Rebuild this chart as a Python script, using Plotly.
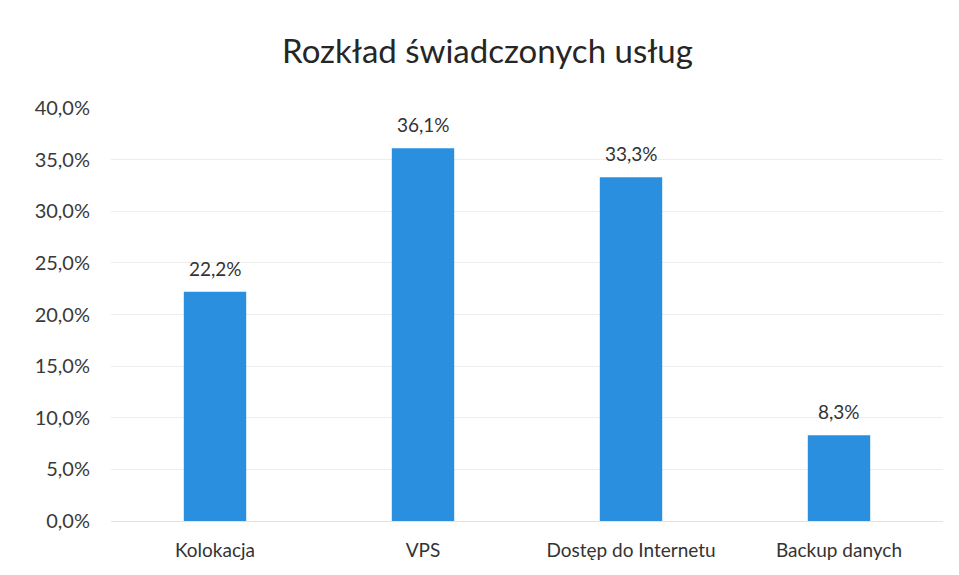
import plotly.graph_objects as go

# dane
categories = ['Kolokacja', 'VPS', 'Dostęp do Internetu', 'Backup danych']
shares = [0.222, 0.361, 0.333, 0.083]
y_ticks = [0, 0.05, 0.10, 0.15, 0.20, 0.25, 0.30, 0.35, 0.40]

labels = [('%.1f%%' % (v * 100)).replace('.', ',') for v in shares]

bar = go.Bar(x=categories, y=shares,
             width=0.3,
             marker=dict(color='rgb(43, 143, 224)', line=dict(width=0)))

fig = go.Figure(data=[bar])

# etykiety wartości nad słupkami
for cat, val, lab in zip(categories, shares, labels):
    fig.add_annotation(x=cat, y=val, text=lab, showarrow=False,
                       yanchor='bottom', yshift=10,
                       font=dict(size=19, color='#333333'))

fig.update_layout(
    width=959, height=575,
    separators=',.',
    font=dict(family='Lato, Open Sans, sans-serif', color='#333333'),
    title=dict(text='Rozkład świadczonych usług', x=0.5, xanchor='center',
               y=0.925, yanchor='middle', font=dict(size=33, color='#262626')),
    plot_bgcolor='white', paper_bgcolor='white',
    margin=dict(l=103, r=24, t=100, b=62),
    showlegend=False,
)
fig.update_yaxes(range=[0, 0.40], tickvals=y_ticks, tickformat='.1%',
                 showgrid=True, gridcolor='#ededed', gridwidth=1,
                 zeroline=False, showline=False,
                 tickfont=dict(size=20, color='#3a3a3a'), ticks='',
                 ticklabelstandoff=20)
fig.update_xaxes(showgrid=False, showline=True, linecolor='#e3e3e3',
                 tickfont=dict(size=19, color='#333333'), ticks='',
                 ticklabelstandoff=12)

fig.write_html('out.html')
